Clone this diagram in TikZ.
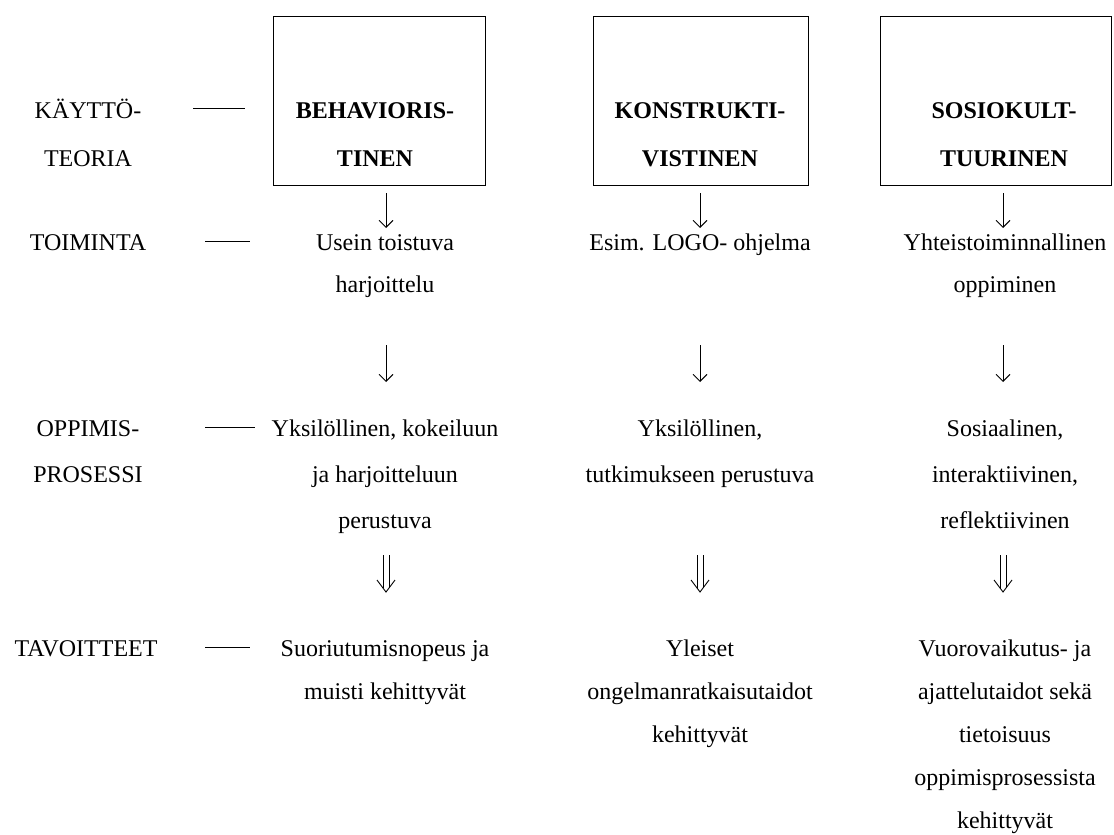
\documentclass[tikz,border=0pt]{standalone}
\usepackage{fontspec}
\setmainfont{Liberation Serif}
\usetikzlibrary{arrows.meta}
\begin{document}
\begin{tikzpicture}[x=1pt,y=-1pt,
  txt/.style={align=center, anchor=base, inner sep=0pt},
  rowA/.style={txt, font=\fontsize{24}{48}\selectfont},
  rowB/.style={txt, font=\fontsize{24}{42}\selectfont},
  rowC/.style={txt, font=\fontsize{24}{46}\selectfont},
  rowD/.style={txt, font=\fontsize{24}{43}\selectfont},
  boxtxt/.style={txt, font=\fontsize{24}{48}\bfseries\selectfont},
  thbox/.style={draw, line width=1pt, minimum height=169pt, inner sep=0pt},
  dashln/.style={line width=0.8pt},
  sarr/.style={line width=0.9pt, -{Straight Barb[length=7pt,width=14pt]}},
  dline/.style={line width=0.8pt},
  dhead/.style={line width=0.9pt, line join=miter}
]
\useasboundingbox (0,0) rectangle (1114,835);
% boxes
\node[thbox, minimum width=212pt] (b1) at (379,100.5) {};
\node[thbox, minimum width=215pt] (b2) at (700.5,100.5) {};
\node[thbox, minimum width=231pt] (b3) at (996,100.5) {};
\node[boxtxt] (b1t) at (375,166) {BEHAVIORIS-\\TINEN};
\node[boxtxt] (b2t) at (700,166) {KONSTRUKTI-\\VISTINEN};
\node[boxtxt] (b3t) at (1004,166) {SOSIOKULT-\\TUURINEN};
% left labels
\node[rowA] (l1) at (88,166) {KÄYTTÖ-\\TEORIA};
\node[rowB] (l2) at (88,250) {TOIMINTA};
\node[rowC] (l3) at (88,482) {OPPIMIS-\\PROSESSI};
\node[rowD] (l4) at (86,656) {TAVOITTEET};
% dashes
\coordinate (d1a) at (193,108); \coordinate (d1b) at (245,108);
\coordinate (d2a) at (205,241); \coordinate (d2b) at (250,241);
\coordinate (d3a) at (205,427); \coordinate (d3b) at (255,427);
\coordinate (d4a) at (205,647); \coordinate (d4b) at (250,647);
\draw[dashln] (d1a) -- (d1b);
\draw[dashln] (d2a) -- (d2b);
\draw[dashln] (d3a) -- (d3b);
\draw[dashln] (d4a) -- (d4b);
% row 2
\node[rowB] (t1) at (385,292) {Usein toistuva\\harjoittelu};
\node[rowB] (t2) at (700,250) {Esim. LOGO- ohjelma};
\node[rowB] (t3) at (1005,292) {Yhteistoiminnallinen\\oppiminen};
% row 3
\node[rowC] (p1) at (385,528) {Yksilöllinen, kokeiluun\\ja harjoitteluun\\perustuva};
\node[rowC] (p2) at (700,482) {Yksilöllinen,\\tutkimukseen perustuva};
\node[rowC] (p3) at (1005,528) {Sosiaalinen,\\interaktiivinen,\\reflektiivinen};
% row 4
\node[rowD] (g1) at (385,699) {Suoriutumisnopeus ja\\muisti kehittyvät};
\node[rowD] (g2) at (700,742) {Yleiset\\ongelmanratkaisutaidot\\kehittyvät};
\node[rowD] (g3) at (1005,828) {Vuorovaikutus- ja\\ajattelutaidot sekä\\tietoisuus\\oppimisprosessista\\kehittyvät};
% arrows
\foreach \i/\x in {1/386,2/700,3/1003}{
  \coordinate (s\i a) at (\x,193); \coordinate (s\i b) at (\x,228);
  \coordinate (m\i a) at (\x,345); \coordinate (m\i b) at (\x,382);
  \coordinate (w\i a) at (\x,555); \coordinate (w\i b) at (\x,592);
  \draw[sarr] (s\i a) -- (s\i b);
  \draw[sarr] (m\i a) -- (m\i b);
  \draw[dline] ([xshift=-3pt]w\i a) -- ([xshift=-3pt,yshift=4pt]w\i b);
  \draw[dline] ([xshift=3pt]w\i a) -- ([xshift=3pt,yshift=4pt]w\i b);
  \draw[dhead] ([xshift=-9pt,yshift=12pt]w\i b) -- (w\i b) -- ([xshift=9pt,yshift=12pt]w\i b);
}
\end{tikzpicture}
\end{document}
